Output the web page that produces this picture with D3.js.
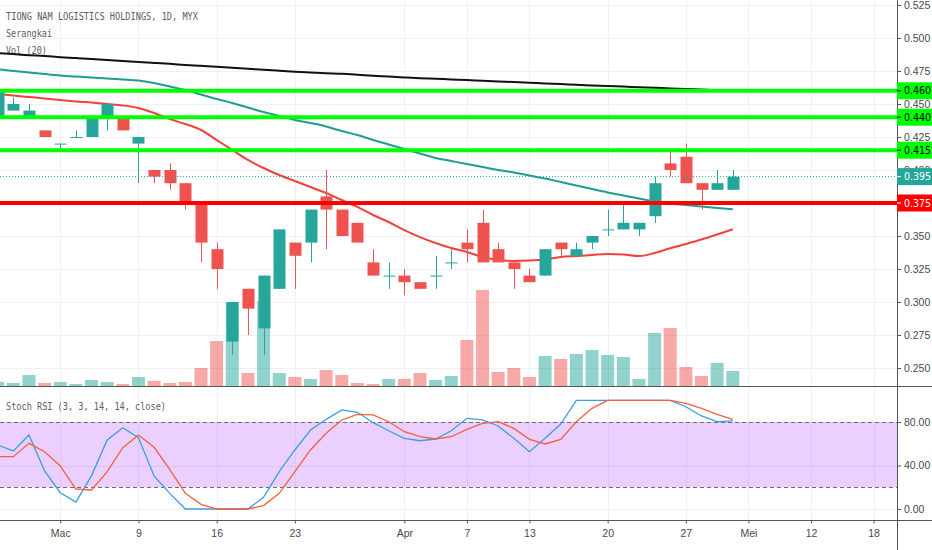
<!DOCTYPE html>
<html lang="en">
<head>
<meta charset="UTF-8" />
<title>Tiong Nam Logistics Holdings, 1D, MYX</title>
<script src="https://d3js.org/d3.v7.min.js"></script>
<style>
  body { margin: 0; background: #fff; }
  svg { display: block; font-family: "DejaVu Sans Condensed", "Liberation Sans Narrow", Roboto, sans-serif; }
  .grid line { stroke: #edf1f5; stroke-width: 1; shape-rendering: crispEdges; }
  .axis text { fill: #4a4a4a; font-size: 10.5px; }
  .axis line { stroke: #555; }
  .axis path { display: none; }
  .legend { fill: #5d5d5d; font-family: "DejaVu Sans Mono", monospace; font-size: 11px; }
</style>
</head>
<body>
<svg id="chart" width="932" height="550"></svg>
<script>
// daily bars, 25 Feb - 30 Apr 2020
const opens  = [0.44,0.445,0.44,0.43,0.42,0.425,0.425,0.44,0.44,0.42,0.40,0.40,0.39,0.375,0.34,0.27,0.31,0.28,0.31,0.345,0.345,0.38,0.37,0.36,0.33,0.32,0.32,0.315,0.32,0.33,0.345,0.36,0.34,0.33,0.32,0.32,0.345,0.335,0.345,0.355,0.355,0.355,0.365,0.405,0.41,0.39,0.385,0.385];
const highs  = [0.46,0.455,0.45,0.43,0.42,0.43,0.44,0.45,0.44,0.425,0.40,0.405,0.39,0.375,0.345,0.30,0.31,0.32,0.355,0.345,0.37,0.40,0.37,0.36,0.34,0.33,0.325,0.315,0.335,0.34,0.355,0.37,0.345,0.33,0.325,0.34,0.345,0.345,0.35,0.37,0.375,0.36,0.395,0.415,0.42,0.39,0.40,0.40];
const lows   = [0.44,0.445,0.44,0.425,0.415,0.425,0.425,0.43,0.43,0.39,0.39,0.385,0.37,0.33,0.31,0.26,0.275,0.26,0.31,0.31,0.33,0.34,0.35,0.345,0.32,0.31,0.305,0.31,0.31,0.325,0.33,0.33,0.33,0.31,0.315,0.32,0.335,0.335,0.34,0.35,0.355,0.35,0.36,0.395,0.39,0.37,0.385,0.385];
const closes = [0.46,0.45,0.445,0.425,0.42,0.425,0.44,0.45,0.43,0.425,0.395,0.39,0.375,0.345,0.325,0.30,0.295,0.32,0.355,0.335,0.37,0.37,0.35,0.345,0.32,0.32,0.315,0.31,0.32,0.33,0.34,0.33,0.33,0.325,0.315,0.34,0.34,0.34,0.35,0.355,0.36,0.36,0.39,0.40,0.39,0.385,0.39,0.395];
// volume, thousand shares
const volumes = [100,75,275,75,100,50,150,100,50,225,125,75,100,450,1125,2075,325,2125,325,225,175,400,275,75,50,175,175,325,150,250,1150,2400,350,450,225,750,675,800,900,775,725,175,1325,1450,475,250,575,375];

// moving averages
const maRed   = [0.4576,0.4564,0.4553,0.4542,0.4530,0.4519,0.4511,0.4500,0.4489,0.4470,0.4432,0.4386,0.4348,0.4303,0.4227,0.4152,0.4076,0.4015,0.3962,0.3917,0.3871,0.3826,0.3773,0.3720,0.3659,0.3606,0.3545,0.3492,0.3447,0.3409,0.3379,0.3341,0.3318,0.3311,0.3314,0.3322,0.3341,0.3348,0.3356,0.3364,0.3360,0.3348,0.3371,0.3407,0.3439,0.3473,0.3511,0.3551];
const maTeal  = [0.4763,0.4750,0.4739,0.4727,0.4716,0.4708,0.4701,0.4693,0.4686,0.4678,0.4659,0.4633,0.4606,0.4572,0.4538,0.4508,0.4473,0.4439,0.4409,0.4379,0.4356,0.4330,0.4295,0.4265,0.4227,0.4193,0.4159,0.4125,0.4091,0.4068,0.4045,0.4023,0.4000,0.3981,0.3958,0.3936,0.3909,0.3883,0.3856,0.3830,0.3807,0.3784,0.3761,0.3746,0.3735,0.3723,0.3712,0.3702];
const maBlack = [0.4885,0.4878,0.4870,0.4863,0.4855,0.4848,0.4841,0.4833,0.4826,0.4818,0.4811,0.4804,0.4796,0.4789,0.4782,0.4774,0.4767,0.4759,0.4752,0.4745,0.4738,0.4733,0.4729,0.4722,0.4714,0.4708,0.4701,0.4695,0.4691,0.4686,0.4682,0.4676,0.4671,0.4666,0.4661,0.4655,0.4651,0.4645,0.4641,0.4636,0.4632,0.4627,0.4623,0.4618,0.4614,0.4609,0.4604,0.4598];

// stoch rsi
const stochK = [58.9,53.4,68.1,35.0,15.0,6.4,30.7,63.5,74.8,65.6,30.4,14.4,0,0,0,0,0,10.7,34.3,54.3,72.7,82.5,91.1,89.0,79.4,72.0,65.0,62.8,64.4,72.0,83.4,81.9,76.4,65.0,52.7,65.0,78.2,100,100,100,100,100,100,100,94.1,85.6,80.3,81.0];
const stochD = [48.1,48.1,60.4,52.7,39.6,18.4,17.5,34.3,56.4,68.1,56.8,36.5,14.4,4.3,0,0,0,3.1,14.4,34.3,54.3,69.6,81.9,87.1,86.5,80.3,71.1,66.5,64.4,66.5,73.3,78.8,80.3,74.2,64.1,59.8,64.1,80.3,92.6,100,100,100,100,100,97.2,92.6,87.1,82.5];

const dateTickIdx = [4,9,14,19,26,30,34,39,44,48,52,56];
const dateTickLabels = ["Mac","9","16","23","Apr","7","13","20","27","Mei","12","18"];
const priceTicks = [0.25,0.275,0.30,0.325,0.35,0.375,0.40,0.425,0.45,0.475,0.50,0.525];
const rsiTicks = [0,40,80];
const greenLevels = [0.46,0.44,0.415];
const redLevel = 0.375;
const lastPrice = 0.395;

const axisX = 897, paneDiv = 386, bottomY = 520.5;
const UP = "#26a69a", DOWN = "#ef5350";

const svg = d3.select("#chart");
const x = d3.scaleLinear().domain([0, 57.5]).range([-2.3, 897]);
const y = d3.scaleLinear().domain([0.25, 0.525]).range([368, 5]);
const yVol = d3.scaleLinear().domain([0, 2500]).range([paneDiv, paneDiv - 100]);
const yRsi = d3.scaleLinear().domain([0, 100]).range([509, 400.3]);

const defs = svg.append("defs");
defs.append("clipPath").attr("id", "clipPrice")
  .append("rect").attr("x", 0).attr("y", 0).attr("width", axisX).attr("height", paneDiv);
defs.append("clipPath").attr("id", "clipRsi")
  .append("rect").attr("x", 0).attr("y", paneDiv).attr("width", axisX).attr("height", bottomY - paneDiv);

// grid
const grid = svg.append("g").attr("class", "grid");
grid.selectAll(".gx").data(dateTickIdx).join("line").attr("class", "gx")
  .attr("x1", d => Math.round(x(d)) + 0.5).attr("x2", d => Math.round(x(d)) + 0.5)
  .attr("y1", 0).attr("y2", bottomY);
grid.selectAll(".gy").data(priceTicks).join("line").attr("class", "gy")
  .attr("x1", 0).attr("x2", axisX).attr("y1", d => Math.round(y(d)) + 0.5).attr("y2", d => Math.round(y(d)) + 0.5);
grid.selectAll(".gr").data(rsiTicks).join("line").attr("class", "gr")
  .attr("x1", 0).attr("x2", axisX).attr("y1", d => Math.round(yRsi(d)) + 0.5).attr("y2", d => Math.round(yRsi(d)) + 0.5);

// legend (behind the lines, like the original)
const legend = svg.append("g").attr("class", "legend");
legend.append("text").attr("x", 6).attr("y", 20).attr("textLength", 192).attr("lengthAdjust", "spacingAndGlyphs")
  .text("TIONG NAM LOGISTICS HOLDINGS, 1D, MYX");
legend.append("text").attr("x", 6).attr("y", 37).attr("textLength", 46).attr("lengthAdjust", "spacingAndGlyphs").text("Serangkai");
legend.append("text").attr("x", 6).attr("y", 54).attr("textLength", 41).attr("lengthAdjust", "spacingAndGlyphs").text("Vol (20)");

const price = svg.append("g").attr("clip-path", "url(#clipPrice)");
const bars = d3.range(closes.length);
const isUp = i => closes[i] >= opens[i];

// volume
price.append("g").selectAll("rect").data(bars).join("rect")
  .attr("x", i => x(i) - 6.5).attr("width", 13)
  .attr("y", i => yVol(volumes[i])).attr("height", i => yVol(0) - yVol(volumes[i]))
  .attr("fill", i => isUp(i) ? "rgba(38,166,154,0.5)" : "rgba(239,83,80,0.5)");

// moving averages
const maLine = arr => d3.line().x((d, i) => x(i)).y(d => y(d)).curve(d3.curveMonotoneX)(arr);
price.append("path").attr("d", maLine(maBlack)).attr("fill", "none").attr("stroke", "#111").attr("stroke-width", 2);
price.append("path").attr("d", maLine(maTeal)).attr("fill", "none").attr("stroke", "#1f9d8f").attr("stroke-width", 2);
price.append("path").attr("d", maLine(maRed)).attr("fill", "none").attr("stroke", "#f2413b").attr("stroke-width", 2);

// candles
const candles = price.append("g").selectAll("g").data(bars).join("g");
candles.append("line")
  .attr("x1", i => Math.round(x(i)) + 0.5).attr("x2", i => Math.round(x(i)) + 0.5)
  .attr("y1", i => y(highs[i])).attr("y2", i => y(lows[i]))
  .attr("stroke", i => isUp(i) ? UP : DOWN).attr("stroke-width", 1);
candles.append("rect")
  .attr("x", i => Math.round(x(i)) - 5.5).attr("width", 12)
  .attr("y", i => y(Math.max(opens[i], closes[i])))
  .attr("height", i => Math.max(1, Math.abs(y(opens[i]) - y(closes[i]))))
  .attr("fill", i => isUp(i) ? UP : DOWN);

// horizontal levels
price.append("g").selectAll("line").data(greenLevels).join("line")
  .attr("x1", 0).attr("x2", axisX).attr("y1", d => y(d)).attr("y2", d => y(d))
  .attr("stroke", "#00ff00").attr("stroke-width", 4);
price.append("line").attr("x1", 0).attr("x2", axisX).attr("y1", y(redLevel)).attr("y2", y(redLevel))
  .attr("stroke", "#ff0000").attr("stroke-width", 4);
price.append("line").attr("x1", 0).attr("x2", axisX).attr("y1", y(lastPrice)).attr("y2", y(lastPrice))
  .attr("stroke", UP).attr("stroke-width", 1).attr("stroke-dasharray", "1,2");

// stoch rsi pane
const rsi = svg.append("g").attr("clip-path", "url(#clipRsi)");
rsi.append("rect").attr("x", 0).attr("width", axisX)
  .attr("y", yRsi(80)).attr("height", yRsi(20) - yRsi(80))
  .attr("fill", "rgba(153,21,255,0.2)");
rsi.selectAll(".band").data([80, 20]).join("line").attr("class", "band")
  .attr("x1", 0).attr("x2", axisX).attr("y1", d => Math.round(yRsi(d)) + 0.5).attr("y2", d => Math.round(yRsi(d)) + 0.5)
  .attr("stroke", "#6d6d6d").attr("stroke-dasharray", "4,3");
const rsiLine = d3.line().x((d, i) => x(i)).y(d => yRsi(d));
rsi.append("path").attr("d", rsiLine(stochK)).attr("fill", "none").attr("stroke", "#3a9fe0").attr("stroke-width", 1.3);
rsi.append("path").attr("d", rsiLine(stochD)).attr("fill", "none").attr("stroke", "#f55f3e").attr("stroke-width", 1.3);
svg.append("text").attr("class", "legend").attr("x", 6).attr("y", 410)
  .attr("textLength", 160).attr("lengthAdjust", "spacingAndGlyphs")
  .text("Stoch RSI (3, 3, 14, 14, close)");

// axes
svg.append("g").attr("class", "axis").attr("transform", `translate(${axisX},0)`)
  .call(d3.axisRight(y).tickValues(priceTicks).tickFormat(d3.format(".3f")).tickSize(4).tickPadding(3));
svg.append("g").attr("class", "axis").attr("transform", `translate(${axisX},0)`)
  .call(d3.axisRight(yRsi).tickValues(rsiTicks).tickFormat(d3.format(".2f")).tickSize(4).tickPadding(3));
svg.append("g").attr("class", "axis").attr("transform", `translate(0,${bottomY})`)
  .call(d3.axisBottom(x).tickValues(dateTickIdx).tickFormat((d, i) => dateTickLabels[i]).tickSize(3).tickPadding(6));

// frame lines
svg.append("line").attr("x1", axisX + 0.5).attr("x2", axisX + 0.5).attr("y1", 0).attr("y2", 550).attr("stroke", "#555");
svg.append("line").attr("x1", 0).attr("x2", 932).attr("y1", paneDiv + 0.5).attr("y2", paneDiv + 0.5).attr("stroke", "#555");
svg.append("line").attr("x1", 0).attr("x2", 932).attr("y1", bottomY).attr("y2", bottomY).attr("stroke", "#555");

// price labels on the axis
const tags = [
  ...greenLevels.map(v => ({ v, bg: "#00ff00", fg: "#000" })),
  { v: lastPrice, bg: UP, fg: "#fff" },
  { v: redLevel, bg: "#ff0000", fg: "#fff" }
];
const tag = svg.append("g").selectAll("g").data(tags).join("g")
  .attr("transform", d => `translate(${axisX},${y(d.v)})`);
tag.append("rect").attr("x", 0).attr("y", -8.5).attr("width", 35).attr("height", 17).attr("fill", d => d.bg);
tag.append("line").attr("x1", 0).attr("x2", 4).attr("stroke", d => d.fg);
tag.append("text").attr("x", 7).attr("dy", "0.35em").attr("font-size", "10.5px")
  .attr("fill", d => d.fg).text(d => d3.format(".3f")(d.v));
</script>
</body>
</html>
